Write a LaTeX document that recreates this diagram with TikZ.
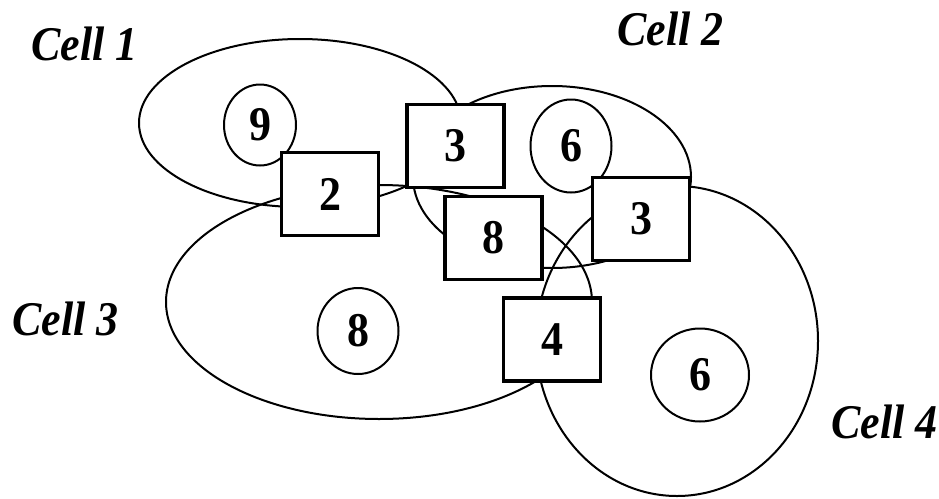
\documentclass[tikz,border=0pt]{standalone}
\usepackage{fontspec}
\setmainfont{Liberation Serif}
\usetikzlibrary{shapes.geometric}
\newcommand\tallbox[1]{\scalebox{1}[1.1]{#1}}
\tikzset{
  cellring/.style={draw, line width=2pt, ellipse, inner sep=0pt},
  site/.style={draw, line width=2pt, ellipse, inner sep=0pt, fill=white,
    font=\bfseries\fontsize{44}{52}\selectfont},
  chan/.style={draw, line width=3.2pt, rectangle, fill=white, inner sep=0pt,
    minimum width=97pt, minimum height=83pt,
    font=\bfseries\fontsize{44}{52}\selectfont},
  celllabel/.style={anchor=base west, inner sep=0pt,
    font=\bfseries\itshape\fontsize{44}{52}\selectfont}
}
\begin{document}
\begin{tikzpicture}[x=1pt,y=1pt]
\useasboundingbox (0,0) rectangle (939,-498);
% cells
\node[cellring, minimum width=322pt, minimum height=168pt] (e1) at (300,-123) {};
\node[cellring, minimum width=278pt, minimum height=182pt] (e2) at (552,-177) {};
\node[cellring, minimum width=426pt, minimum height=234pt] (e3) at (379,-302) {};
\node[cellring, minimum width=282pt, minimum height=310pt] (e4) at (677,-341) {};
% sites
\node[site, minimum width=72pt, minimum height=81pt] (s9) at (260,-125) {\tallbox{9}};
\node[site, minimum width=81pt, minimum height=93pt] (s6a) at (571,-146) {\tallbox{6}};
\node[site, minimum width=81pt, minimum height=86pt] (s8) at (358,-331) {\tallbox{8}};
\node[site, minimum width=98pt, minimum height=93pt] (s6b) at (700,-375) {\tallbox{6}};
% channels
\node[chan] (b2) at (330,-194) {\tallbox{2}};
\node[chan] (b3a) at (455.5,-146) {\tallbox{3}};
\node[chan] (b8) at (493.5,-238) {\tallbox{8}};
\node[chan] (b3b) at (641,-219) {\tallbox{3}};
\node[chan] (b4) at (552,-339.5) {\tallbox{4}};
% labels
\node[celllabel] (l1) at (31,-60) {\tallbox{Cell 1}};
\node[celllabel] (l2) at (617,-45) {\tallbox{Cell 2}};
\node[celllabel] (l3) at (12,-335) {\tallbox{Cell 3}};
\node[celllabel] (l4) at (831,-438) {\tallbox{Cell 4}};
\end{tikzpicture}
\end{document}
